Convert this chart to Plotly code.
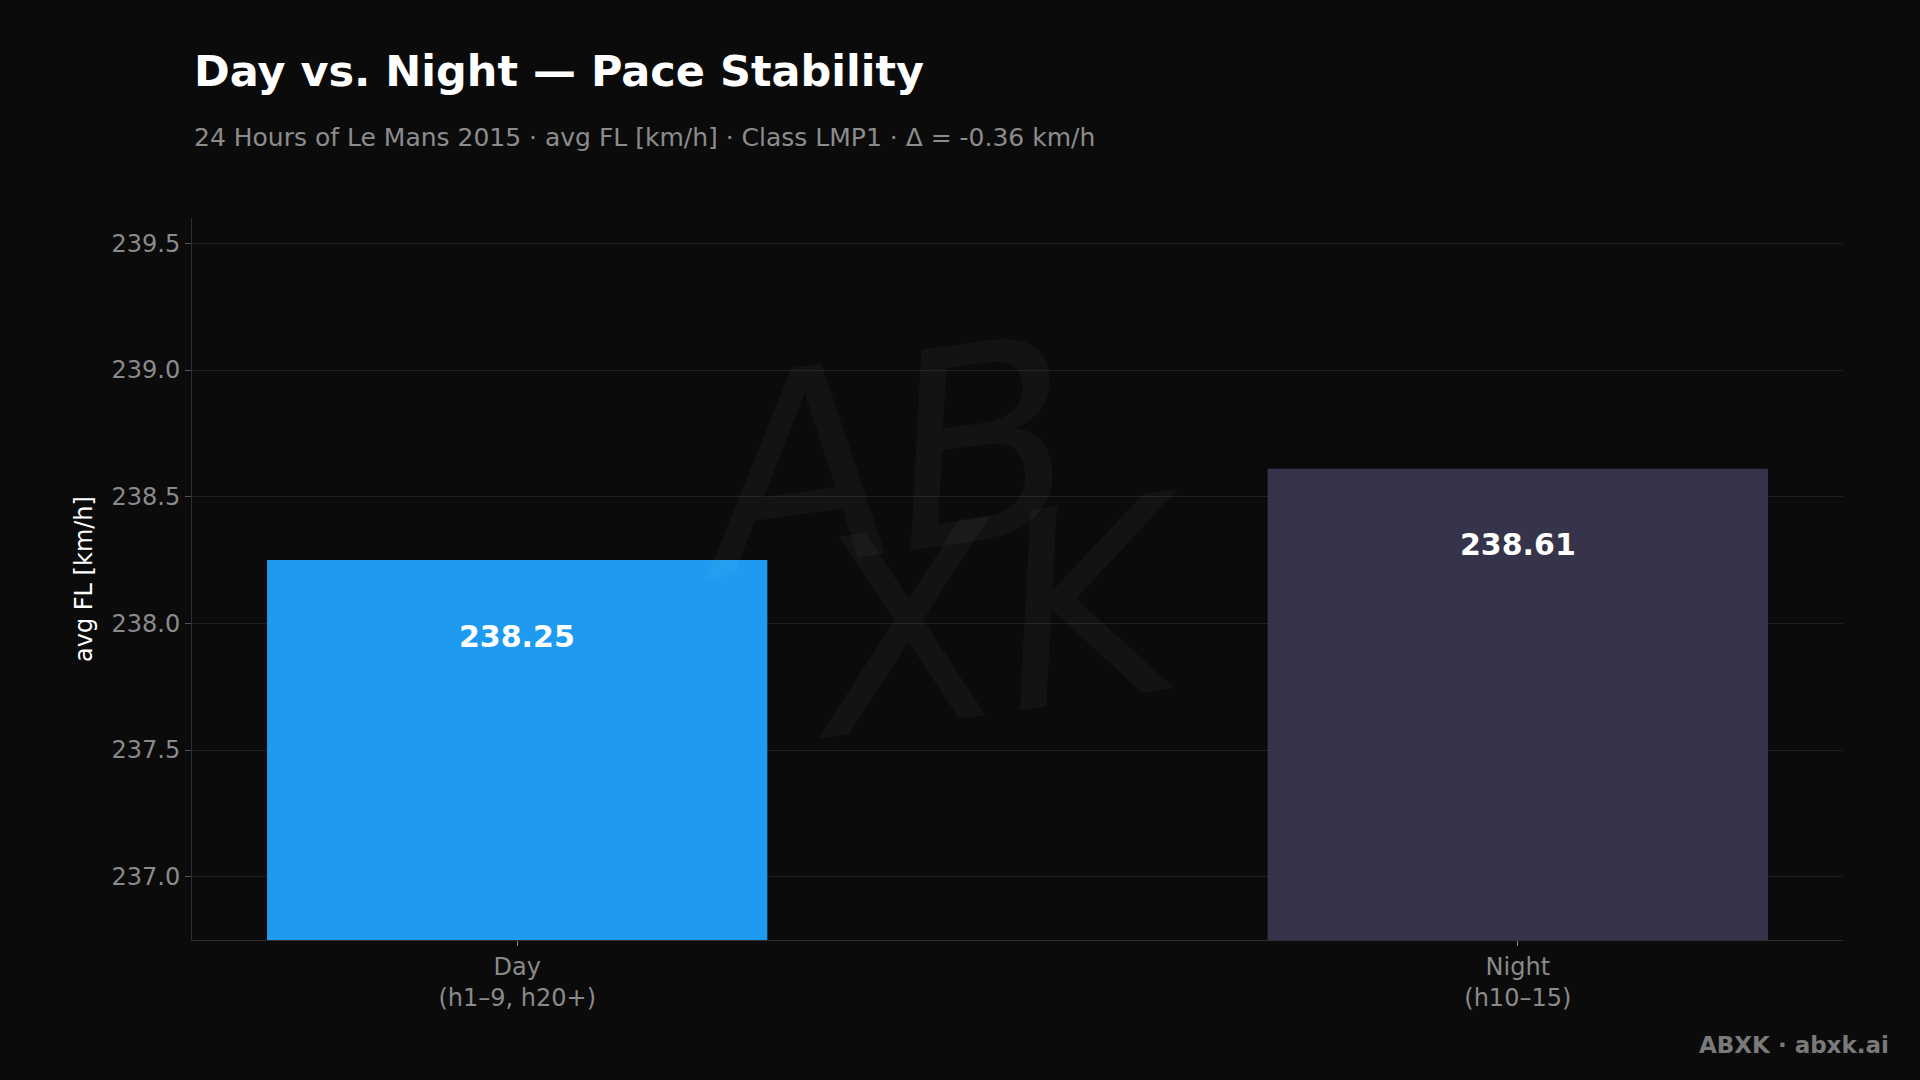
import plotly.graph_objects as go

categories = ["Day<br>(h1–9, h20+)", "Night<br>(h10–15)"]
values = [238.25, 238.61]
bar_colors = ["#1e9bf0", "#35344a"]
label_texts = ["238.25", "238.61"]

title_text = "Day vs. Night — Pace Stability"
subtitle_text = "24 Hours of Le Mans 2015 · avg FL [km/h] · Class LMP1 · Δ = -0.36 km/h"
y_title = "avg FL [km/h]"
footer_text = "ABXK · abxk.ai"

BG = "#0b0b0c"
FONT = "DejaVu Sans"
W, H = 1920, 1080
plot_l, plot_r, plot_t, plot_b = 192, 1843, 218, 940


def px_to_paper(px, py):
    return (px - plot_l) / (plot_r - plot_l), (plot_b - py) / (plot_b - plot_t)


fig = go.Figure()
fig.add_trace(go.Bar(
    x=categories, y=values, marker=dict(color=bar_colors, line=dict(width=0)),
    width=0.5, hoverinfo="skip", showlegend=False,
))

# faint watermark
for txt, (cx, cy) in [("AB", (882, 459)), ("XK", (1000, 618))]:
    ax, ay = px_to_paper(cx, cy)
    fig.add_annotation(x=ax, y=ay, xref="paper", yref="paper", text=txt,
                       showarrow=False, textangle=-8,
                       font=dict(family=FONT, size=270, color="rgba(255,255,255,0.035)",
                                 style="italic", weight=200))

for c, v, t in zip(categories, values, label_texts):
    fig.add_annotation(x=c, y=v, text=f"<b>{t}</b>", showarrow=False,
                       yanchor="middle", yshift=-76,
                       font=dict(family=FONT, size=30, color="#ffffff"))

ax, ay = px_to_paper(192, 71)
fig.add_annotation(x=ax, y=ay, xref="paper", yref="paper", xanchor="left", yanchor="middle",
                   text=f"<b>{title_text}</b>", showarrow=False,
                   font=dict(family=FONT, size=43, color="#ffffff"))
ax, ay = px_to_paper(192, 137)
fig.add_annotation(x=ax, y=ay, xref="paper", yref="paper", xanchor="left", yanchor="middle",
                   text=subtitle_text, showarrow=False,
                   font=dict(family=FONT, size=25, color="#8c8c8c"))
ax, ay = px_to_paper(1891, 1045)
fig.add_annotation(x=ax, y=ay, xref="paper", yref="paper", xanchor="right", yanchor="middle",
                   text=f"<b>{footer_text}</b>", showarrow=False,
                   font=dict(family=FONT, size=23, color="#7a7a7a"))

fig.update_layout(
    width=W, height=H,
    paper_bgcolor=BG, plot_bgcolor=BG,
    margin=dict(l=plot_l, r=W - plot_r, t=plot_t, b=H - plot_b),
    font=dict(family=FONT, color="#8a8a8a", size=24),
)

fig.update_xaxes(
    range=[-0.325, 1.325], showgrid=False,
    showline=True, linecolor="#2e2e30", linewidth=1,
    ticks="outside", ticklen=5, tickcolor="#8a8a8a",
    tickfont=dict(family=FONT, size=24, color="#8a8a8a"),
)
fig.update_yaxes(
    range=[236.75, 239.6], dtick=0.5, tick0=237.0, tickformat=".1f",
    showgrid=True, gridcolor="#1f1f22", gridwidth=1, zeroline=False,
    showline=True, linecolor="#2e2e30", linewidth=1,
    ticks="outside", ticklen=6, tickcolor="#555",
    tickfont=dict(family=FONT, size=24, color="#8a8a8a"),
    title=dict(text=y_title, font=dict(family=FONT, size=24, color="#ffffff"), standoff=12),
)

fig.write_html("out.html", config={"displayModeBar": False},
               post_script="document.body.style.margin='0';document.body.style.padding='0';document.body.style.background='#0b0b0c';")
